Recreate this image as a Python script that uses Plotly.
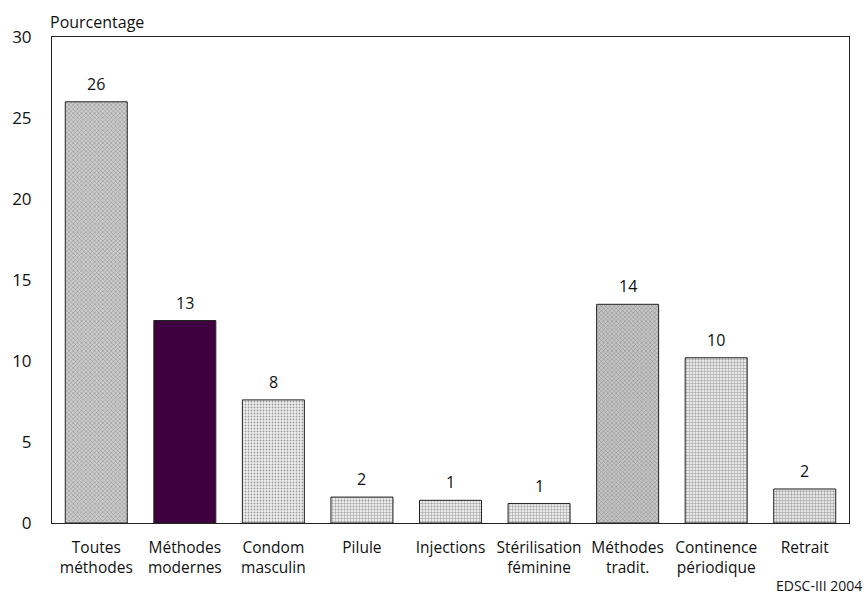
import plotly.graph_objects as go

categories = ["Toutes<br>méthodes", "Méthodes<br>modernes", "Condom<br>masculin", "Pilule",
              "Injections", "Stérilisation<br>féminine", "Méthodes<br>tradit.",
              "Continence<br>périodique", "Retrait"]
values = [26.0, 12.5, 7.6, 1.6, 1.4, 1.2, 13.5, 10.2, 2.1]
value_labels = ["26", "13", "8", "2", "1", "1", "14", "10", "2"]
y_ticks = [0, 5, 10, 15, 20, 25, 30]

bg_colors = ["#cdcdcd", "#3f003f", "#efefef", "#ebebeb", "#ebebeb", "#ebebeb",
             "#c6c6c6", "#e9e9e9", "#e6e6e6"]
fg_colors = ["#a6a6a6", "#3f003f", "#c8c8c8", "#c0c0c0", "#c0c0c0", "#c0c0c0",
             "#9c9c9c", "#bcbcbc", "#bababa"]
shapes_ = ["x", "", ".", "+", "+", "+", "x", "+", "+"]

FONT = "'Open Sans', Lato, sans-serif"

fig = go.Figure()
fig.add_trace(go.Bar(
    x=categories, y=values,
    marker=dict(
        color=bg_colors,
        line=dict(color="#222222", width=1),
        pattern=dict(shape=shapes_, fgcolor=fg_colors,
                     size=3, solidity=0.3, fillmode="overlay"),
    ),
    width=0.7,
    hoverinfo="skip",
))

for c, v, t in zip(categories, values, value_labels):
    fig.add_annotation(x=c, y=v, text=t, showarrow=False, xref="x", yref="y",
                       yanchor="bottom", yshift=5,
                       font=dict(family=FONT, size=16, color="#111111"))

fig.add_annotation(x=0, y=1, xref="paper", yref="paper", text="Pourcentage",
                   showarrow=False, xanchor="left", yanchor="bottom", yshift=2, xshift=-4,
                   font=dict(family=FONT, size=16, color="#111111"))
fig.add_annotation(x=1, y=0, xref="paper", yref="paper", text="EDSC-III 2004",
                   showarrow=False, xanchor="right", yanchor="top", yshift=-51, xshift=15,
                   font=dict(family=FONT, size=14, color="#111111"))

fig.update_layout(
    width=868, height=597,
    margin=dict(l=48, r=19, t=37, b=74),
    paper_bgcolor="white", plot_bgcolor="white",
    showlegend=False,
    font=dict(family=FONT, size=15, color="#111111"),
)
fig.update_xaxes(showline=True, linecolor="#222222", linewidth=1, mirror=True,
                 ticks="", showgrid=False, tickfont=dict(size=15.5),
                 ticklabelstandoff=10)
fig.update_yaxes(range=[0, 30], tickvals=y_ticks, showline=True, linecolor="#222222",
                 linewidth=1, mirror=True, ticks="", showgrid=False, zeroline=False,
                 tickfont=dict(size=17), ticklabelstandoff=16)

fig.write_html("out.html")
